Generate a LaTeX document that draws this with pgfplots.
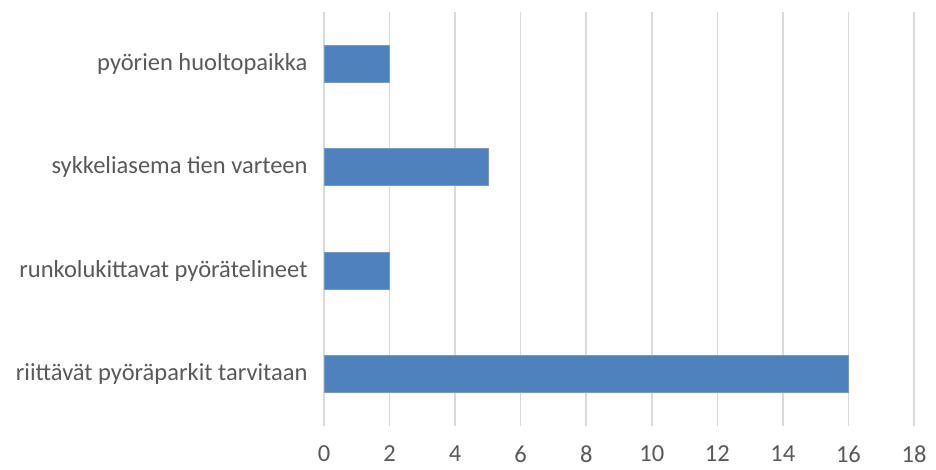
\documentclass[border=0pt]{standalone}
\usepackage{pgfplots}
\pgfplotsset{compat=1.18}
\usepackage{fontspec}
\setmainfont{Carlito}
\definecolor{barblue}{HTML}{4F81BD}
\definecolor{gridgray}{HTML}{D9D9D9}
\definecolor{labgray}{HTML}{595959}
\begin{document}
\begin{tikzpicture}
\useasboundingbox (0,0) rectangle (936bp,470bp);
\begin{axis}[
  at={(324bp,44bp)}, anchor=south west,
  scale only axis,
  width=590bp, height=414bp,
  xbar, bar width=37bp,
  xmin=0, xmax=18,
  ymin=-0.5, ymax=3.5,
  xtick={0,2,...,18},
  ytick={0,1,2,3},
  yticklabels={riittävät pyöräparkit tarvitaan, runkolukittavat pyörätelineet, sykkeliasema tien varteen, pyörien huoltopaikka},
  axis line style={draw=none},
  major tick length=0pt,
  xmajorgrids, grid style={gridgray, line width=1.5bp},
  tick label style={font=\fontsize{24.5bp}{28bp}\selectfont, text=labgray},
  xticklabel style={yshift=-16bp},
  yticklabel style={xshift=-13bp},
  /pgf/number format/assume math mode=true,
  clip=false,
]
\addplot[fill=barblue, draw=barblue!80!white, line width=0.6bp] coordinates {(16,0) (2,1) (5,2) (2,3)};
\end{axis}
\end{tikzpicture}
\end{document}
